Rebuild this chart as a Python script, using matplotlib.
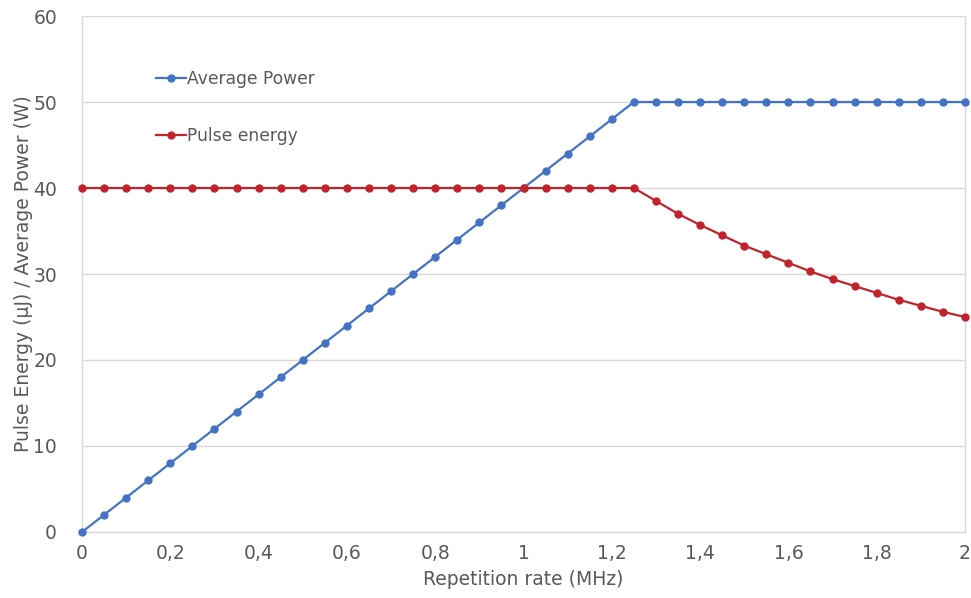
#!/usr/bin/env python3
"""Pulse energy and average power versus repetition rate."""

import matplotlib.pyplot as plt
from matplotlib.ticker import FuncFormatter

rep_rate = [0.00, 0.05, 0.10, 0.15, 0.20, 0.25, 0.30, 0.35, 0.40, 0.45,
            0.50, 0.55, 0.60, 0.65, 0.70, 0.75, 0.80, 0.85, 0.90, 0.95,
            1.00, 1.05, 1.10, 1.15, 1.20, 1.25, 1.30, 1.35, 1.40, 1.45,
            1.50, 1.55, 1.60, 1.65, 1.70, 1.75, 1.80, 1.85, 1.90, 1.95, 2.00]

avg_power = [0, 2, 4, 6, 8, 10, 12, 14, 16, 18,
             20, 22, 24, 26, 28, 30, 32, 34, 36, 38,
             40, 42, 44, 46, 48, 50, 50, 50, 50, 50,
             50, 50, 50, 50, 50, 50, 50, 50, 50, 50, 50]

pulse_energy = [40, 40, 40, 40, 40, 40, 40, 40, 40, 40,
                40, 40, 40, 40, 40, 40, 40, 40, 40, 40,
                40, 40, 40, 40, 40, 40, 38.5, 37.0, 35.7, 34.5,
                33.3, 32.3, 31.3, 30.3, 29.4, 28.6, 27.8, 27.0, 26.3, 25.6, 25.0]

TEXT = "#595959"
GRID = "#d9d9d9"


def comma(v, _pos):
    s = f"{v:g}"
    return s.replace(".", ",")


def main():
    plt.rcParams["font.family"] = ["DejaVu Sans"]
    fig = plt.figure(figsize=(9.71, 5.98), dpi=100)
    ax = fig.add_axes([0.0845, 0.1104, 0.9093, 0.8628])

    ax.plot(rep_rate, avg_power, "o-", color="#4472C4", linewidth=1.6,
            markersize=5, label="Average Power", clip_on=False, zorder=3)
    ax.plot(rep_rate, pulse_energy, "o-", color="#C0232B", linewidth=1.6,
            markersize=5, label="Pulse energy", clip_on=False, zorder=3)

    ax.set_xlim(0, 2)
    ax.set_ylim(0, 60)
    ax.set_xticks([0, 0.2, 0.4, 0.6, 0.8, 1.0, 1.2, 1.4, 1.6, 1.8, 2.0])
    ax.set_yticks(range(0, 61, 10))
    ax.xaxis.set_major_formatter(FuncFormatter(comma))
    ax.tick_params(axis="both", length=0, labelsize=13.5, colors=TEXT)
    ax.tick_params(axis="x", pad=9)
    ax.tick_params(axis="y", pad=18)

    ax.grid(True, axis="y", color=GRID, linewidth=1)
    for side in ["left", "right", "bottom", "top"]:
        ax.spines[side].set_color(GRID)
        ax.spines[side].set_linewidth(1)
    ax.spines["top"].set_visible(False)

    ax.set_xlabel("Repetition rate (MHz)", fontsize=13.5, color=TEXT, labelpad=5)
    ax.set_ylabel("Pulse Energy (µJ) / Average Power (W)", fontsize=13.5,
                  color=TEXT, labelpad=0)

    leg = ax.legend(loc="upper left", bbox_to_anchor=(0.066, 0.925), frameon=False,
                    fontsize=12.3, handlelength=1.75, handletextpad=0.1,
                    labelspacing=2.3)
    for t in leg.get_texts():
        t.set_color(TEXT)

    fig.savefig("out.png", dpi=100, facecolor="white")


if __name__ == "__main__":
    main()
